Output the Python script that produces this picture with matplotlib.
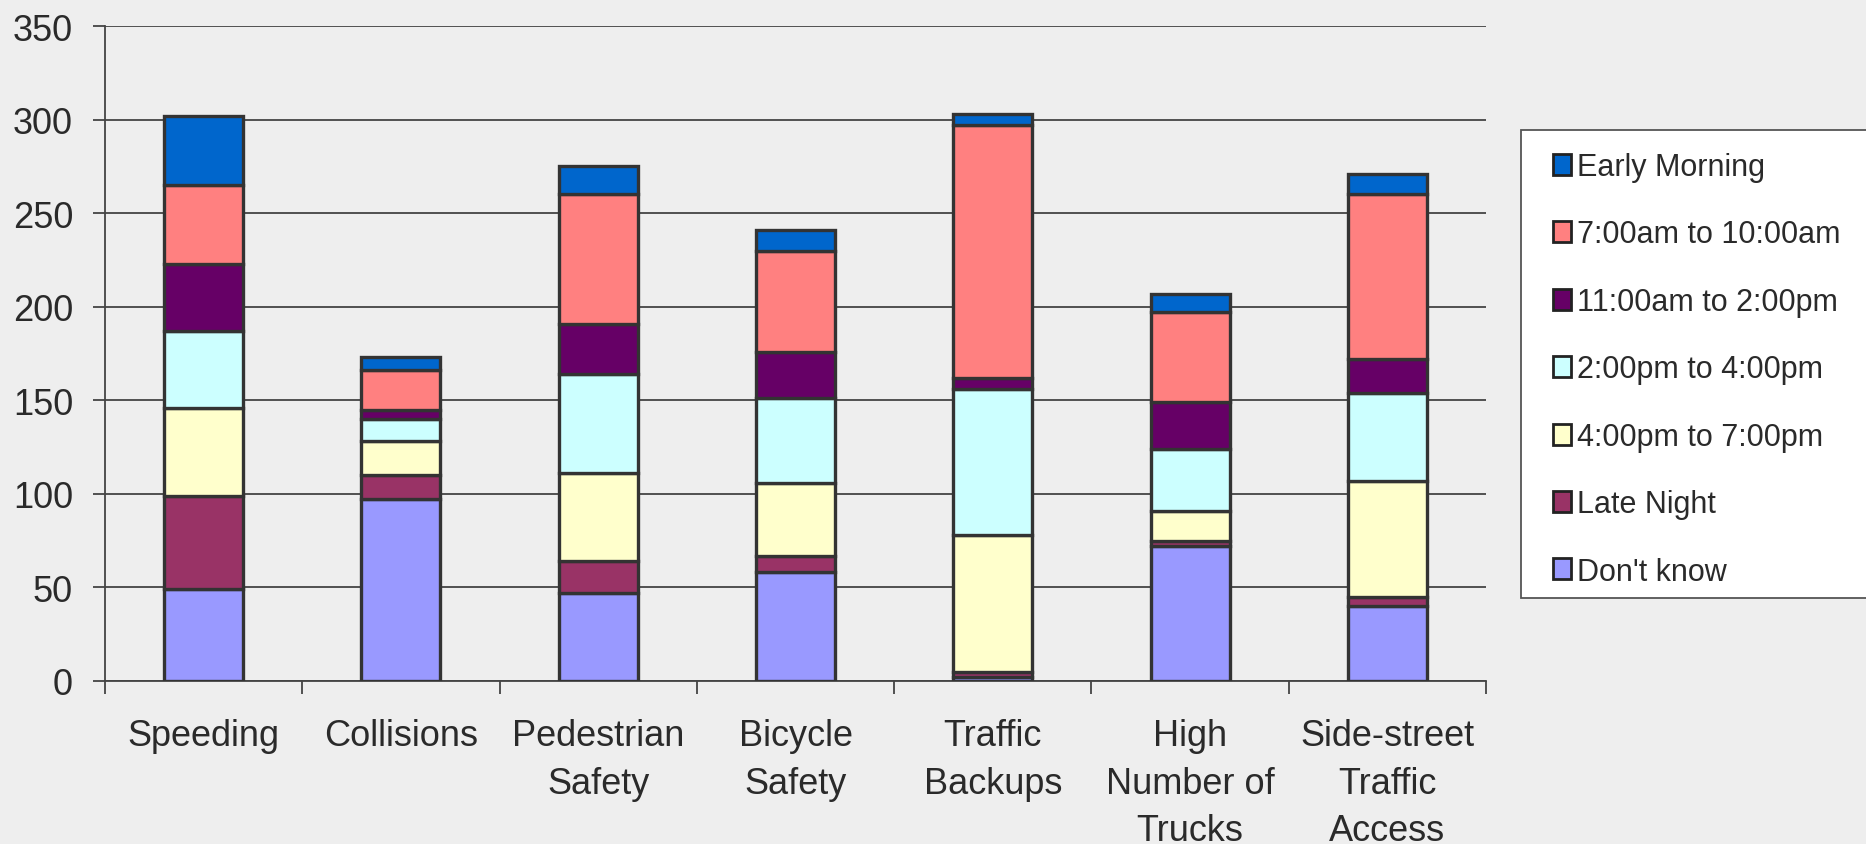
import matplotlib
matplotlib.use("Agg")
import matplotlib.pyplot as plt
from matplotlib.patches import Patch, Rectangle
import numpy as np

plt.rcParams['font.family'] = ['Liberation Sans', 'DejaVu Sans']

categories = ["Speeding", "Collisions", "Pedestrian\nSafety", "Bicycle\nSafety",
              "Traffic\nBackups", "High\nNumber of\nTrucks", "Side-street\nTraffic\nAccess"]

# stacked from bottom to top
series_names = ["Don't know", "Late Night", "4:00pm to 7:00pm", "2:00pm to 4:00pm",
                "11:00am to 2:00pm", "7:00am to 10:00am", "Early Morning"]
dont_know   = [49, 97, 47, 58, 2, 72, 40]
late_night  = [50, 13, 17, 9, 3, 3, 5]
pm4_7       = [47, 18, 47, 39, 73, 16, 62]
pm2_4       = [41, 12, 53, 45, 78, 33, 47]
am11_pm2    = [36, 5, 27, 25, 6, 25, 18]
am7_10      = [42, 21, 69, 54, 135, 48, 88]
early_morn  = [37, 7, 15, 11, 6, 10, 11]
series_vals = [dont_know, late_night, pm4_7, pm2_4, am11_pm2, am7_10, early_morn]
colors = ["#9999FF", "#993366", "#FFFFCC", "#CCFFFF", "#660066", "#FF8080", "#0066CC"]

W, H = 1866, 845
fig = plt.figure(figsize=(W / 100, H / 100), dpi=100)
bg = "#EEEEEE"
fig.patch.set_facecolor(bg)
ax = fig.add_axes([105 / W, (H - 682) / H, (1486 - 105) / W, (682 - 27) / H])
ax.set_facecolor(bg)

x = np.arange(len(categories))
bottom = np.zeros(len(categories))
edge = "#333333"
for name, vals, c in zip(series_names, series_vals, colors):
    ax.bar(x, vals, bottom=bottom, width=0.4, color=c, edgecolor=edge,
           linewidth=2.4, label=name, zorder=3)
    bottom += np.array(vals)

ax.set_xlim(-0.5, len(categories) - 0.5)
ax.set_ylim(0, 350)
ax.set_yticks(np.arange(0, 351, 50))
ax.yaxis.grid(True, color="#444444", linewidth=1.3, zorder=0)
ax.set_axisbelow(True)

ax.set_xticks(x)
ax.set_xticklabels(categories, fontsize=26, color="#2a2a2a", linespacing=1.45)
ax.tick_params(axis='x', which='major', length=0, pad=27)
ax.set_xticks(np.arange(-0.5, len(categories), 1.0), minor=True)
ax.tick_params(axis='x', which='minor', length=9, width=1.3, color="#444444")
ax.tick_params(axis='y', length=9, width=1.3, color="#444444", pad=14,
               labelsize=26, labelcolor="#2a2a2a")

for s in ["top", "right"]:
    ax.spines[s].set_visible(False)
ax.spines["left"].set_color("#444444")
ax.spines["left"].set_linewidth(1.3)
ax.spines["bottom"].set_color("#444444")
ax.spines["bottom"].set_linewidth(1.3)

# legend box
rect = Rectangle((1521 / W, (H - 599) / H), (1880 - 1521) / W, (599 - 131) / H,
                 transform=fig.transFigure, facecolor="white", edgecolor="#555555",
                 linewidth=1.3, zorder=1)
fig.patches.append(rect)

handles = [Patch(facecolor=c, edgecolor="#222222", linewidth=2, label=n)
           for n, c in zip(series_names[::-1], colors[::-1])]
leg = fig.legend(handles=handles, loc="upper left",
                 bbox_to_anchor=(1553 / W, (H - 153) / H), frameon=False,
                 fontsize=22, labelspacing=1.225, handlelength=0.6,
                 handleheight=0.68, handletextpad=0.2, borderpad=0,
                 borderaxespad=0, labelcolor="#2a2a2a")

fig.savefig("out.png", dpi=100, facecolor=bg)
